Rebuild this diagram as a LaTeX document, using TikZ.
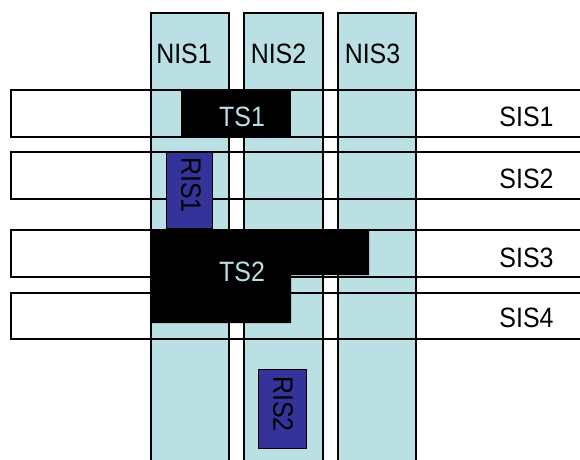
\documentclass[tikz,border=0pt]{standalone}
\usepackage{fontspec}
\setmainfont{Liberation Sans}
\definecolor{colfill}{RGB}{187,224,227}
\definecolor{risfill}{RGB}{51,51,153}
\newcommand{\lbl}[1]{\scalebox{0.89}[1]{#1}}
\begin{document}
\begin{tikzpicture}[x=1pt,y=-1pt,
  rowbox/.style={rectangle, draw=black, line width=1.8pt, fill=white, anchor=north west, inner sep=0pt, minimum width=600pt, minimum height=47pt},
  rowline/.style={rectangle, draw=black, line width=1.8pt, anchor=north west, inner sep=0pt, minimum width=600pt, minimum height=47pt},
  colbox/.style={rectangle, draw=black, line width=1.5pt, fill=colfill, anchor=north west, inner sep=0pt, minimum height=480pt},
  tsbox/.style={rectangle, fill=black, anchor=north west, inner sep=0pt},
  risbox/.style={rectangle, draw=black, line width=0.8pt, fill=risfill, anchor=north west, inner sep=0pt},
  txt/.style={font=\fontsize{28}{30}\selectfont, inner sep=0pt, text=black},
  tstxt/.style={txt, text=colfill},
  ristxt/.style={txt, rotate=-90}]
\useasboundingbox (0,0) rectangle (580,459);
\clip (0,0) rectangle (580,459);
% rows (fills)
\node[rowbox] (sis1) at (10,89) {};
\node[rowbox] (sis2) at (10,151) {};
\node[rowbox] (sis3) at (10,229) {};
\node[rowbox, minimum height=46pt] (sis4) at (10,292) {};
% columns
\node[colbox, minimum width=78pt] (nis1) at (150,12) {};
\node[colbox, minimum width=79pt] (nis2) at (243,12) {};
\node[colbox, minimum width=78pt] (nis3) at (337,12) {};
% row outlines over columns
\node[rowline] (sis1l) at (10,89) {};
\node[rowline] (sis2l) at (10,151) {};
\node[rowline] (sis3l) at (10,229) {};
\node[rowline, minimum height=46pt] (sis4l) at (10,292) {};
% TS1
\node[tsbox, minimum width=110pt, minimum height=47pt] (ts1) at (181,89) {};
\node[tstxt] (ts1t) at (242,116.5) {\lbl{TS1}};
% TS2
\fill[black] (150,229) -- (369,229) -- (369,275) -- (291,275) -- (291,323) -- (150,323) -- cycle;
\node[tstxt] (ts2t) at (242,272) {\lbl{TS2}};
% RIS
\node[risbox, minimum width=46pt, minimum height=76pt] (ris1) at (166,152) {};
\node[ristxt] (ris1t) at (191,185) {\lbl{RIS1}};
\node[risbox, minimum width=48pt, minimum height=79pt] (ris2) at (258,369) {};
\node[ristxt] (ris2t) at (283,404) {\lbl{RIS2}};
% labels
\node[txt] (nis1t) at (184,53.5) {\lbl{NIS1}};
\node[txt] (nis2t) at (278.5,53.5) {\lbl{NIS2}};
\node[txt] (nis3t) at (372.5,53.5) {\lbl{NIS3}};
\node[txt] (sis1t) at (526.5,117) {\lbl{SIS1}};
\node[txt] (sis2t) at (526.5,179) {\lbl{SIS2}};
\node[txt] (sis3t) at (526.5,258) {\lbl{SIS3}};
\node[txt] (sis4t) at (526.5,317.5) {\lbl{SIS4}};
\end{tikzpicture}
\end{document}
